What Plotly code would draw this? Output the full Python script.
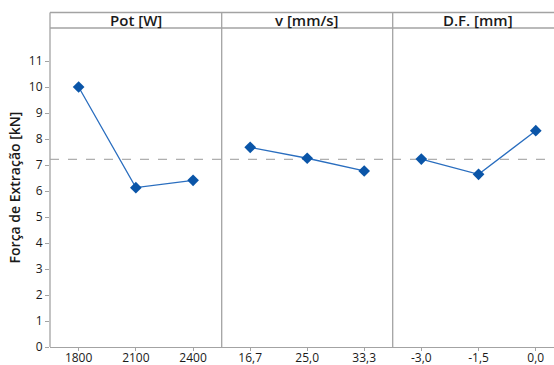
import plotly.graph_objects as go

# Data
factors = ["Pot [W]", "v [mm/s]", "D.F. [mm]"]
levels_pot = ["1800", "2100", "2400"]
levels_v = ["16,7", "25,0", "33,3"]
levels_df = ["-3,0", "-1,5", "0,0"]
means_pot = [10.0, 6.13, 6.41]
means_v = [7.68, 7.26, 6.77]
means_df = [7.23, 6.64, 8.32]
grand_mean = 7.22
y_ticks = list(range(0, 12))

W, H = 554, 365
ml, mr, mt, mb = 50, 0, 28, 18
plot_w = W - ml - mr
plot_h = H - mt - mb

b1 = 171.7 / plot_w
b2 = 342.7 / plot_w
unit = 171.7 / 3.0
r3 = -0.5 + (plot_w - 342.7) / unit

blue_line = "#2a6ebf"
blue_mark = "#0a55a8"
gray = "#a3a3a3"
txt = "#1a1a1a"

fig = go.Figure()
groups = [(levels_pot, means_pot, "x"), (levels_v, means_v, "x2"), (levels_df, means_df, "x3")]
for lv, mv, xa in groups:
    fig.add_trace(go.Scatter(
        x=list(range(len(lv))), y=mv, xaxis=xa, yaxis="y", mode="lines+markers",
        line=dict(color=blue_line, width=1.3),
        marker=dict(symbol="diamond", size=9, color=blue_mark),
        showlegend=False, hoverinfo="y"))

tickfont = dict(family="Open Sans", size=12, color=txt)
xcommon = dict(showline=True, linecolor=gray, linewidth=1, ticks="outside", ticklen=3,
               tickcolor=gray, showgrid=False, zeroline=False, tickfont=tickfont,
               fixedrange=True, automargin=False, ticklabelstandoff=-3)
fig.update_layout(
    width=W, height=H, margin=dict(l=ml, r=mr, t=mt, b=mb),
    paper_bgcolor="white", plot_bgcolor="white",
    xaxis=dict(domain=[0, b1], range=[-0.5, 2.5], tickvals=[0, 1, 2], ticktext=levels_pot, **xcommon),
    xaxis2=dict(domain=[b1, b2], range=[-0.5, 2.5], tickvals=[0, 1, 2], ticktext=levels_v, **xcommon),
    xaxis3=dict(domain=[b2, 1], range=[-0.5, r3], tickvals=[0, 1, 2], ticktext=levels_df, **xcommon),
    yaxis=dict(range=[0, 12.27], tickvals=y_ticks, ticktext=[str(t) for t in y_ticks],
               showline=False, ticks="outside", ticklen=4, tickcolor=gray, showgrid=False,
               zeroline=False, tickfont=tickfont, fixedrange=True, automargin=False,
               title=dict(text="Força de Extração [kN]", standoff=4,
                          font=dict(family="Open Sans", size=14, color=txt, weight=600))),
)

top_y = 1 + (28 - 12.5) / plot_h
head_mid = 1 + (28 - 20.3) / plot_h
shapes = []
for xb in [0, b1, b2]:
    shapes.append(dict(type="line", xref="paper", yref="paper", x0=xb, x1=xb, y0=0, y1=top_y,
                       line=dict(color=gray, width=1.3)))
for yy in [top_y, 1.0]:
    shapes.append(dict(type="line", xref="paper", yref="paper", x0=0, x1=1, y0=yy, y1=yy,
                       line=dict(color=gray, width=1.3)))
shapes.append(dict(type="line", xref="paper", yref="y", x0=0, x1=1, y0=grand_mean, y1=grand_mean,
                   line=dict(color="#9a9a9a", width=1, dash="dash"), layer="below"))
fig.update_layout(shapes=shapes)

centers = [b1 / 2, (b1 + b2) / 2, b2 + (b2 - b1) / 2]
for name, cx in zip(factors, centers):
    fig.add_annotation(text=name, xref="paper", yref="paper", x=cx, y=head_mid,
                       showarrow=False, xanchor="center", yanchor="middle",
                       font=dict(family="Open Sans", size=15, color=txt, weight=600))

fig.write_html("out.html", config={"displayModeBar": False},
               post_script="document.body.style.margin='0';document.body.style.overflow='hidden';")
